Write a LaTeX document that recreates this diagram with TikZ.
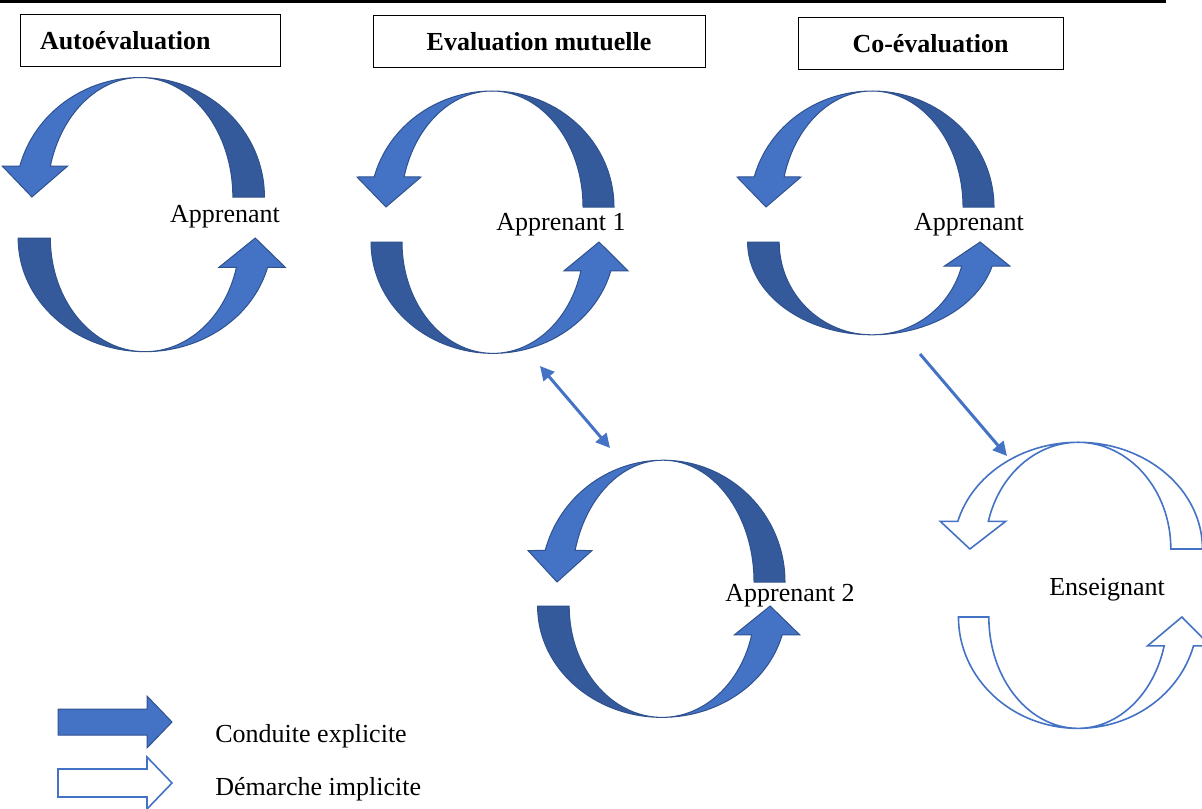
\documentclass[tikz,border=0pt]{standalone}
\usepackage{fontspec}
\setmainfont{Liberation Serif}
\usetikzlibrary{arrows.meta}
\definecolor{cycblue}{HTML}{4472C4}
\definecolor{cycshade}{HTML}{345A9C}
\definecolor{cycedge}{HTML}{2F528F}
\begin{document}
\begin{tikzpicture}[
  x=0.5pt, y=-0.5pt,
  txt/.style={font=\fontsize{13}{15}\selectfont, inner sep=0pt},
  titlebox/.style={draw, line width=0.5pt, font=\fontsize{13}{15}\selectfont\bfseries, minimum height=26pt},
  cycdark/.style={fill=cycshade, draw=cycedge, line width=0.5pt},
  cyclight/.style={fill=cycblue, draw=cycedge, line width=0.5pt},
  cycopen/.style={fill=white, draw=cycblue, line width=0.8pt},
  link/.style={draw=cycblue, line width=1.5pt},
  tip/.style={-{Triangle[length=7pt,width=7pt]}},
  halfcyc/.pic={
    % back of the ribbon
    \path[cycdark] (122,0) arc[start angle=0, end angle=-90, x radius=122, y radius=116]
      arc[start angle=-90, end angle=0, x radius=91, y radius=116] -- cycle;
    % front with the head
    \path[cyclight] (0,-116) arc[start angle=-90, end angle=-165, x radius=122, y radius=116]
      -- (-135,-30) -- (-106,0) -- (-71,-30) -- (-165:91 and 116)
      arc[start angle=-165, end angle=-90, x radius=91, y radius=116] -- cycle;
  }
]
\useasboundingbox (0,0) rectangle (1202,808);
\clip (0,0) rectangle (1202,808);

\draw[line width=1.5pt] (0,1.5) -- (1166,1.5);

% titles
\node[titlebox, text width=110pt, inner xsep=10pt, align=left] (auto) at (150,41) {Autoévaluation};
\node[titlebox, minimum width=166pt] (mutu) at (539,41.5) {Evaluation mutuelle};
\node[titlebox, minimum width=132.5pt] (coev) at (930.5,43.5) {Co-évaluation};

% cycles
\pic[xscale=1.02, yscale=1.03] at (140,197) {halfcyc};
\pic[rotate=180, xscale=1.04, yscale=0.98] at (145,238) {halfcyc};
\node[txt] (app) at (225,217) {Apprenant};

\pic at (492,207) {halfcyc};
\pic[rotate=180, yscale=0.96] at (493,242) {halfcyc};
\node[txt] (app1) at (561,225) {Apprenant 1};

\pic at (872,207) {halfcyc};
\pic[rotate=180, xscale=1.02, yscale=0.8] at (872,242) {halfcyc};
\node[txt] (appc) at (969,225) {Apprenant};

\pic[yscale=1.05] at (663,582) {halfcyc};
\pic[rotate=180, xscale=1.02, yscale=0.96] at (662,606) {halfcyc};
\node[txt] (app2) at (790,596) {Apprenant 2};

\pic[cycdark/.style=cycopen, cyclight/.style=cycopen, xscale=1.02, yscale=0.92] at (1078,549) {halfcyc};
\pic[cycdark/.style=cycopen, cyclight/.style=cycopen, rotate=180, xscale=0.98, yscale=0.96] at (1078,617) {halfcyc};
\node[txt] (ens) at (1107,590) {Enseignant};

% links
\coordinate (m1) at (540,366);
\coordinate (m2) at (610,448);
\draw[link, {Triangle[length=7pt,width=7pt]}-{Triangle[length=7pt,width=7pt]}] (m1) -- (m2);
\coordinate (c1) at (920,354);
\coordinate (c2) at (1007,456);
\draw[link, tip] (c1) -- (c2);

% legend
\path[cyclight] (58,709) -- (147,709) -- (147,696) -- (172,722) -- (147,748) -- (147,735) -- (58,735) -- cycle;
\path[cycopen] (58,769) -- (147,769) -- (147,757) -- (172,783) -- (147,809) -- (147,797) -- (58,797) -- cycle;
\node[txt, anchor=west] (expl) at (215,736) {Conduite explicite};
\node[txt, anchor=west] (impl) at (215,789) {Démarche implicite};
\end{tikzpicture}
\end{document}
